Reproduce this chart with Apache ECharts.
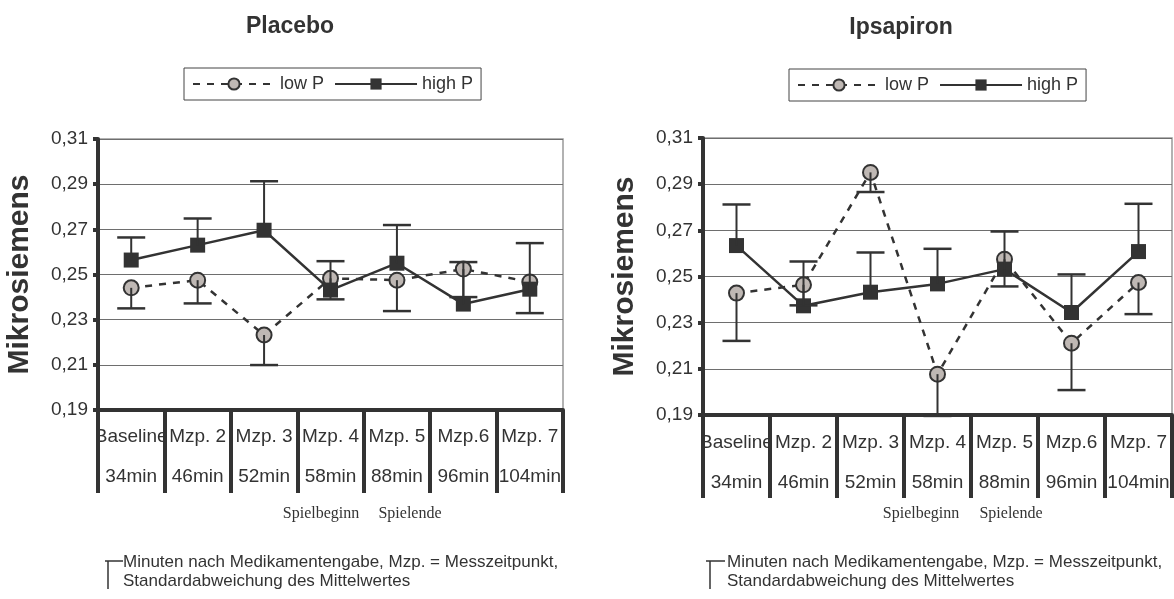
<!DOCTYPE html>
<html><head><meta charset="utf-8">
<script src="https://cdn.jsdelivr.net/npm/echarts@6/dist/echarts.min.js"></script>
<style>html,body{margin:0;padding:0;background:#fff}#c{width:1174px;height:599px}</style>
</head><body><div id="c"></div>
<script>
const categories = ['Baseline','Mzp. 2','Mzp. 3','Mzp. 4','Mzp. 5','Mzp.6','Mzp. 7'];
const times = ['34min','46min','52min','58min','88min','96min','104min'];
const seriesNames = ['low P','high P'];
// Placebo
const placeboLow     = [0.2441,0.2475,0.2232,0.2483,0.2475,0.2524,0.2467];
const placeboLowErr  = [0.2350,0.2372,0.2099,0.2390,0.2338,0.2400,0.2329];
const placeboHigh    = [0.2564,0.2630,0.2696,0.2431,0.2550,0.2369,0.2435];
const placeboHighErr = [0.2664,0.2748,0.2913,0.2559,0.2719,0.2555,0.2639];
// Ipsapiron
const ipsLow     = [0.2428,0.2464,0.2951,0.2077,0.2575,0.2211,0.2474];
const ipsLowErr  = [0.2221,0.2375,0.2866,0.1896,0.2457,0.2008,0.2337];
const ipsHigh    = [0.2634,0.2373,0.2432,0.2468,0.2532,0.2344,0.2608];
const ipsHighErr = [0.2812,0.2565,0.2604,0.2620,0.2695,0.2509,0.2815];

const DARK = '#333';
const FONT = '"Liberation Sans", Arial, sans-serif';

function errRender(params, api) {
  const x = api.value(0), v = api.value(1), e = api.value(2);
  const p0 = api.coord([x, v]), p1 = api.coord([x, e]);
  return {type:'group', children:[
    {type:'line', shape:{x1:p0[0],y1:p0[1],x2:p1[0],y2:p1[1]}, style:{stroke:DARK,lineWidth:2}},
    {type:'line', shape:{x1:p1[0]-14,y1:p1[1],x2:p1[0]+14,y2:p1[1]}, style:{stroke:DARK,lineWidth:2.5}}
  ]};
}
function errData(vals, errs){ return vals.map((v,i)=>[i, v, errs[i]]); }

function mainX(gi, margin){
  return {type:'category', gridIndex:gi, data:categories, boundaryGap:true, position:'bottom', offset:0,
    axisLine:{show:true, lineStyle:{color:DARK, width:4}},
    axisTick:{show:false},
    axisLabel:{interval:0, margin:margin, fontSize:19, lineHeight:40, color:DARK, fontFamily:FONT,
      formatter:(val, idx)=> val + '\n' + times[idx]},
    splitLine:{show:false}};
}
function sepX(gi){
  return {type:'category', gridIndex:gi, data:categories, boundaryGap:true, position:'bottom', offset:0, z:5,
    axisLine:{show:false}, axisLabel:{show:false}, splitLine:{show:false},
    axisTick:{show:true, interval:0, length:83, lineStyle:{color:DARK, width:4}}};
}
function yAx(gi){
  return {type:'value', gridIndex:gi, min:0.19, max:0.31, interval:0.02,
    name:'Mikrosiemens', nameLocation:'middle', nameGap:63, nameRotate:90,
    nameTextStyle:{fontSize:30, fontWeight:'bold', color:DARK, fontFamily:FONT},
    axisLine:{show:true, lineStyle:{color:DARK, width:4}},
    axisTick:{show:true, length:5, lineStyle:{color:DARK, width:4}},
    axisLabel:{fontSize:19, color:DARK, margin:10, fontFamily:FONT,
      formatter:v=>v.toFixed(2).replace('.', ',')},
    splitLine:{show:true, lineStyle:{color:'#6e6e6e', width:1}}};
}
function lineSeries(name, gi, data, isLow){
  return isLow ? {
    name:name, type:'line', xAxisIndex:gi, yAxisIndex:gi, data:data, z:2,
    symbol:'circle', symbolSize:15, animation:false,
    itemStyle:{color:'#bfb8b4', borderColor:DARK, borderWidth:2},
    lineStyle:{color:DARK, width:2.5, type:[7,7]}
  } : {
    name:name, type:'line', xAxisIndex:gi, yAxisIndex:gi, data:data, z:3,
    symbol:'rect', symbolSize:15, animation:false,
    itemStyle:{color:DARK},
    lineStyle:{color:DARK, width:2.5}
  };
}
function errSeries(gi, data){
  return {type:'custom', xAxisIndex:gi, yAxisIndex:gi, data:data, z:4, clip:false,
    renderItem:errRender, encode:{x:0, y:[1,2]}, silent:true, animation:false};
}
function legend(left, top){
  return {left:left, top:top, data:seriesNames, itemWidth:82, itemHeight:14, itemGap:10,
    borderColor:'#444', borderWidth:1, padding:[7,8], borderRadius:0,
    textStyle:{fontSize:18, color:DARK, fontFamily:FONT}};
}
function txt(x, y, text, font, align){
  return {type:'text', x:x, y:y, style:{text:text, font:font, fill:DARK,
    align:align||'center', verticalAlign:'middle', lineHeight:20}};
}
function tIcon(x1, x2, xs, y){
  return [
    {type:'line', shape:{x1:x1,y1:y,x2:x2,y2:y}, style:{stroke:DARK, lineWidth:1.5}},
    {type:'line', shape:{x1:xs,y1:y,x2:xs,y2:y+28}, style:{stroke:DARK, lineWidth:1.5}}
  ];
}
const noteText = 'Minuten nach Medikamentengabe, Mzp. = Messzeitpunkt,\nStandardabweichung des Mittelwertes';

const option = {
  backgroundColor:'#fff',
  animation:false,
  grid:[
    {left:98, top:139, width:465, height:271, show:true, borderColor:'#999', borderWidth:1.5, containLabel:false},
    {left:703, top:138, width:469, height:277, show:true, borderColor:'#999', borderWidth:1.5, containLabel:false}
  ],
  legend:[legend(184, 68), legend(789, 69)],
  xAxis:[mainX(0, 7), mainX(1, 8), sepX(0), sepX(1)],
  yAxis:[yAx(0), yAx(1)],
  series:[
    lineSeries(seriesNames[0], 0, placeboLow, true),
    lineSeries(seriesNames[1], 0, placeboHigh, false),
    errSeries(0, errData(placeboLow, placeboLowErr)),
    errSeries(0, errData(placeboHigh, placeboHighErr)),
    lineSeries(seriesNames[0], 1, ipsLow, true),
    lineSeries(seriesNames[1], 1, ipsHigh, false),
    errSeries(1, errData(ipsLow, ipsLowErr)),
    errSeries(1, errData(ipsHigh, ipsHighErr))
  ],
  graphic:[
    txt(290, 27, 'Placebo', 'bold 23px ' + FONT),
    txt(901, 28, 'Ipsapiron', 'bold 23px ' + FONT),
    txt(321, 514, 'Spielbeginn', '16px "Liberation Serif", "Times New Roman", serif'),
    txt(410, 514, 'Spielende', '16px "Liberation Serif", "Times New Roman", serif'),
    txt(921, 514, 'Spielbeginn', '16px "Liberation Serif", "Times New Roman", serif'),
    txt(1011, 514, 'Spielende', '16px "Liberation Serif", "Times New Roman", serif'),
    {type:'text', x:123, y:553, style:{text:noteText, font:'17px ' + FONT, fill:DARK, align:'left', verticalAlign:'top', lineHeight:19}},
    {type:'text', x:727, y:553, style:{text:noteText, font:'17px ' + FONT, fill:DARK, align:'left', verticalAlign:'top', lineHeight:19}}
  ].concat(tIcon(105, 123, 108, 561), tIcon(706, 725, 710, 561))
};
const chart = echarts.init(document.getElementById('c'), null, {renderer:'canvas'});
chart.setOption(option);
</script></body></html>
